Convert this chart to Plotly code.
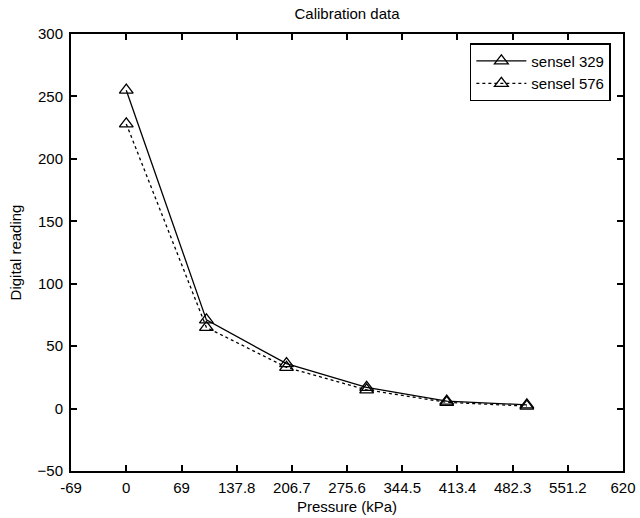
import plotly.graph_objects as go

pressure = [0, 100, 200, 300, 400, 500]
sensel_329 = [255, 71, 36, 17, 6, 3]
sensel_576 = [228, 65, 33, 15, 5, 2]

x_ticks = [-69, 0, 69, 137.8, 206.7, 275.6, 344.5, 413.4, 482.3, 551.2, 620]
x_tick_text = ["-69", "0", "69", "137.8", "206.7", "275.6", "344.5", "413.4", "482.3", "551.2", "620"]
y_ticks = [-50, 0, 50, 100, 150, 200, 250, 300]

font = dict(family="Liberation Sans, Arial, Helvetica, sans-serif", size=15, color="black")

fig = go.Figure()
fig.add_trace(go.Scatter(
    x=pressure, y=sensel_329, name="sensel 329", mode="lines+markers",
    line=dict(color="black", width=1.3, dash="solid"),
    marker=dict(symbol="triangle-up-open", size=12, color="black", line=dict(width=1.3, color="black")),
))
fig.add_trace(go.Scatter(
    x=pressure, y=sensel_576, name="sensel 576", mode="lines+markers",
    line=dict(color="black", width=1.3, dash="dot"),
    marker=dict(symbol="triangle-up-open", size=12, color="black", line=dict(width=1.3, color="black")),
))

axis_common = dict(
    showline=True, linecolor="black", linewidth=2, mirror="ticks",
    ticks="inside", ticklen=6, tickwidth=1.5, tickcolor="black",
    showgrid=False, zeroline=False, tickfont=font, automargin=False,
)

fig.update_layout(
    width=640, height=518,
    margin=dict(l=71, r=17, t=34, b=47),
    paper_bgcolor="white", plot_bgcolor="white",
    font=font,
    title=dict(text="Calibration data", x=0.5, xref="paper", xanchor="center",
               y=1 - 14 / 518, yanchor="middle", font=dict(size=15)),
    xaxis=dict(range=[-69, 620], tickmode="array", tickvals=x_ticks, ticktext=x_tick_text,
               ticklabelstandoff=2,
               title=dict(text="Pressure (kPa)", standoff=6, font=dict(size=15)), **axis_common),
    yaxis=dict(range=[-50, 300], tickmode="array", tickvals=y_ticks,
               ticklabelstandoff=3,
               title=dict(text="Digital reading", standoff=12, font=dict(size=15)), **axis_common),
    legend=dict(x=0.978, y=0.979, xanchor="right", yanchor="top",
                bordercolor="black", borderwidth=1.5, bgcolor="white",
                font=dict(size=15), tracegroupgap=0, itemwidth=50),
    showlegend=True,
)

fig.write_html("out.html")
